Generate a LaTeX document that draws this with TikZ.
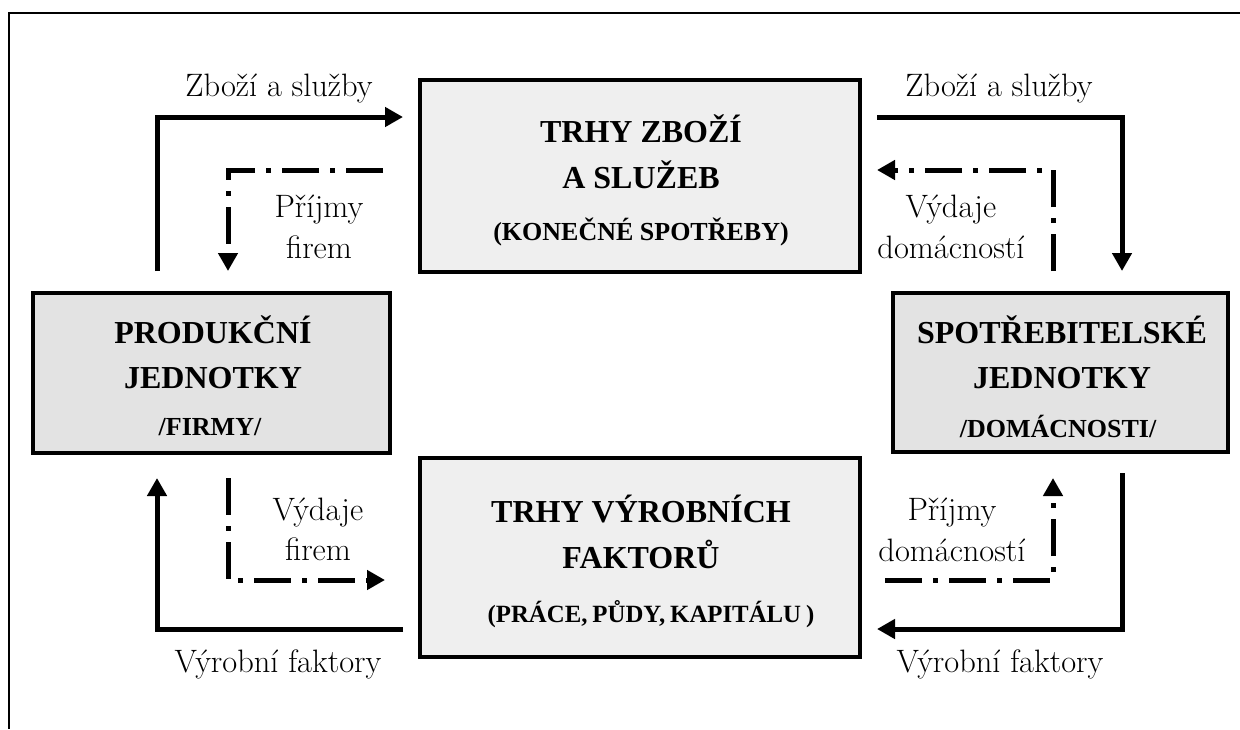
\documentclass[tikz,border=0pt]{standalone}
\usepackage{fontspec}
\newfontfamily\boxfont{Liberation Serif}
\usetikzlibrary{arrows.meta}

\definecolor{marketfill}{HTML}{EFEFEF}
\definecolor{agentfill}{HTML}{E3E3E3}

\tikzset{
  market/.style={draw, line width=2pt, fill=marketfill, outer sep=0pt, inner sep=0pt},
  agent/.style={draw, line width=2pt, fill=agentfill, outer sep=0pt, inner sep=0pt},
  boxtitle/.style={anchor=base, inner sep=0pt, font=\boxfont\bfseries\fontsize{16}{19}\selectfont},
  boxsub/.style={anchor=base, inner sep=0pt, font=\boxfont\bfseries\fontsize{13}{16}\selectfont},
  flowlabel/.style={anchor=base, inner sep=0pt, font=\fontsize{16.2}{19}\selectfont},
  goods/.style={line width=2.5pt, -{Triangle[length=9pt, width=9.5pt]}},
  money/.style={line width=2.5pt, -{Triangle[length=9pt, width=9.5pt]},
    dash pattern=on 18.5pt off 5.5pt on 2.5pt off 5.5pt},
  frame/.style={line width=1pt}
}

\begin{document}
\begin{tikzpicture}[x=0.5pt, y=-0.5pt]
  \useasboundingbox (0,0) rectangle (1240,729);

  % outer frame
  \draw[frame] (1240,13) -- (9,13) -- (9,729);

  % boxes
  \node[market, minimum width=220pt, minimum height=96pt]   (top)    at (640,176)    {};
  \node[market, minimum width=220pt, minimum height=99.5pt] (bottom) at (640,557.5)  {};
  \node[agent,  minimum width=178.5pt, minimum height=80pt] (left)   at (211.5,373)  {};
  \node[agent,  minimum width=167.5pt, minimum height=79.5pt] (right) at (1060.5,372.5) {};

  % box texts
  \node[boxtitle] (top1) at (641,142) {TRHY ZBOŽÍ};
  \node[boxtitle] (top2) at (641,188) {A SLUŽEB};
  \node[boxsub]   (top3) at (641,240) {(KONEČNÉ SPOTŘEBY)};

  \node[boxtitle] (bot1) at (641,522) {TRHY VÝROBNÍCH};
  \node[boxtitle] (bot2) at (641,568) {FAKTORŮ};
  \node[boxsub, font=\boxfont\bfseries\fontsize{12.4}{16}\selectfont]
                  (bot3) at (651,622) {\spaceskip=0.2em\relax(PRÁCE, PŮDY, KAPITÁLU )};

  \node[boxtitle] (left1) at (213,343) {PRODUKČNÍ};
  \node[boxtitle] (left2) at (213,388) {JEDNOTKY};
  \node[boxsub]   (left3) at (210,435) {/FIRMY/};

  \node[boxtitle] (right1) at (1062,343) {SPOTŘEBITELSKÉ};
  \node[boxtitle] (right2) at (1062,388) {JEDNOTKY};
  \node[boxsub]   (right3) at (1058,437) {/DOMÁCNOSTI/};

  % lanes of the circular flows
  \coordinate (xL1) at (157,0);
  \coordinate (xL2) at (228,0);
  \coordinate (xR1) at (1122,0);
  \coordinate (xR2) at (1053,0);
  \coordinate (yT1) at (0,117);
  \coordinate (yT2) at (0,170);
  \coordinate (yB1) at (0,629);
  \coordinate (yB2) at (0,580);

  % real flows
  \draw[goods, shorten <=11pt, shorten >=8.5pt]
    (left.north -| xL1) |- (top.west |- yT1);
  \draw[goods, shorten <=8.5pt, shorten >=11pt]
    (top.east |- yT1) -| (right.north -| xR1);
  \draw[goods, shorten <=10.5pt, shorten >=8.5pt]
    (right.south -| xR1) |- (bottom.east |- yB1);
  \draw[goods, shorten <=8.5pt, shorten >=12.5pt]
    (bottom.west |- yB1) -| (left.south -| xL1);

  % money flows
  \draw[money, shorten <=18.5pt, shorten >=11pt]
    (top.west |- yT2) -| (left.north -| xL2);
  \draw[money, shorten <=11pt, shorten >=8.5pt]
    (right.north -| xR2) |- (top.east |- yT2);
  \draw[money, shorten <=12.5pt, shorten >=17.5pt]
    (left.south -| xL2) |- (bottom.west |- yB2);
  \draw[money, shorten <=12.5pt, shorten >=13pt]
    (bottom.east |- yB2) -| (right.south -| xR2);

  % flow labels
  \node[flowlabel] (lgoodsL) at (279,96)  {Zboží a služby};
  \node[flowlabel] (lgoodsR) at (999,96)  {Zboží a služby};
  \node[flowlabel] (lincF1)  at (319,217) {Příjmy};
  \node[flowlabel] (lincF2)  at (319,258) {firem};
  \node[flowlabel] (lexpH1)  at (951,217) {Výdaje};
  \node[flowlabel] (lexpH2)  at (951,258) {domácností};
  \node[flowlabel] (lexpF1)  at (318,520) {Výdaje};
  \node[flowlabel] (lexpF2)  at (318,560) {firem};
  \node[flowlabel] (lincH1)  at (952,520) {Příjmy};
  \node[flowlabel] (lincH2)  at (952,561) {domácností};
  \node[flowlabel] (lfacL)   at (278,672) {Výrobní faktory};
  \node[flowlabel] (lfacR)   at (1000,672) {Výrobní faktory};
\end{tikzpicture}
\end{document}
